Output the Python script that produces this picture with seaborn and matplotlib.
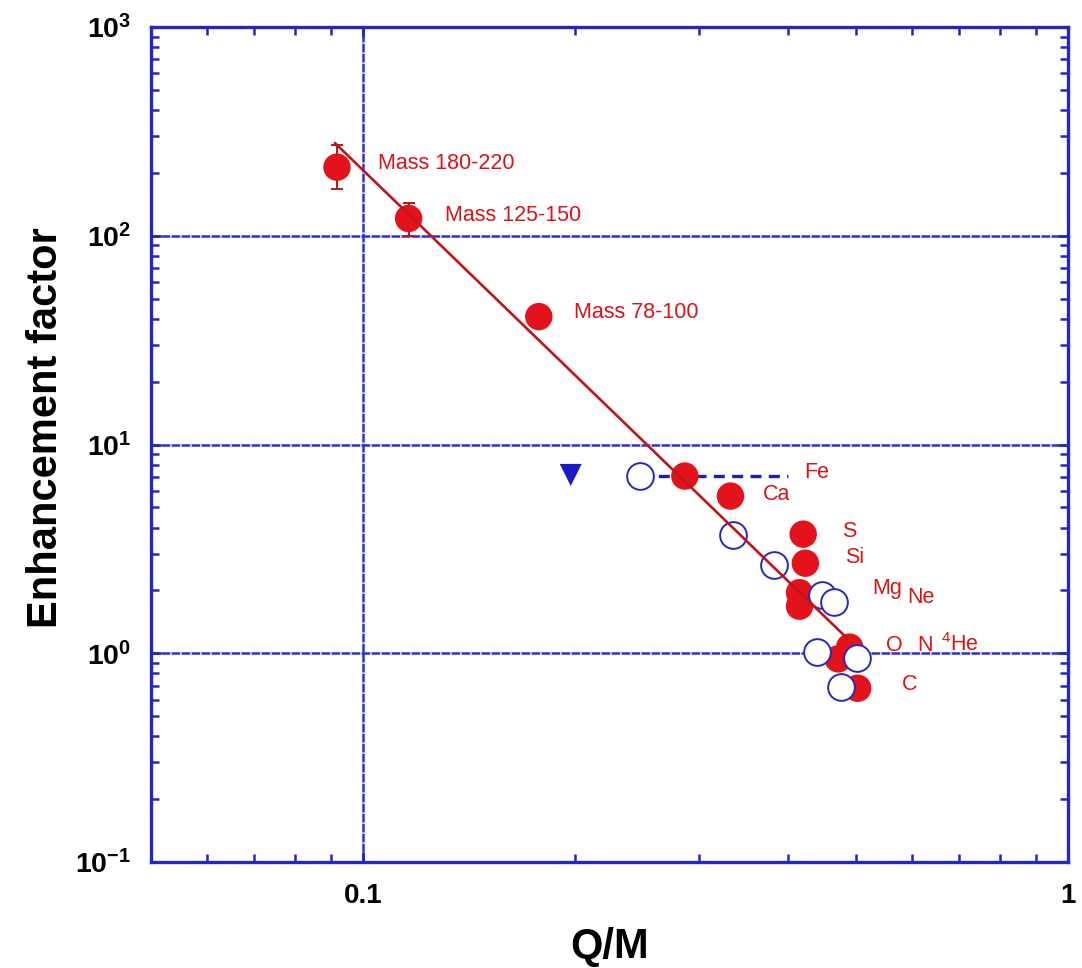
import numpy as np
import pandas as pd
import matplotlib
matplotlib.use("Agg")
import matplotlib.pyplot as plt
from matplotlib.ticker import LogLocator, NullFormatter, FixedLocator
import seaborn as sns

# ---- data -------------------------------------------------------------
# heavy-ion mass groups (filled red)
mass_qm = [0.0918, 0.116, 0.1775]
mass_ef = [213.0, 121.0, 41.0]
mass_names = ["Mass 180-220", "Mass 125-150", "Mass 78-100"]

# error bars on the two heaviest groups
err_qm = [0.0918, 0.116]
err_ef = [213.0, 121.0]
err_lo = [167.0, 100.0]
err_hi = [272.0, 143.0]

# element enhancements (filled red)
elem_qm = [0.286, 0.332, 0.421, 0.424, 0.416, 0.416, 0.472, 0.490, 0.503]
elem_ef = [7.06, 5.66, 3.72, 2.70, 1.95, 1.68, 0.94, 1.07, 0.68]

# second data set (open blue circles)
open_qm = [0.247, 0.335, 0.383, 0.448, 0.466, 0.440, 0.502, 0.477]
open_ef = [7.06, 3.68, 2.65, 1.90, 1.76, 1.01, 0.95, 0.69]

# upper limit (blue triangle)
limit_qm = [0.197]
limit_ef = [7.15]

# Fe charge-state range (dashed blue)
fe_range_qm = [0.247, 0.40]
fe_range_ef = [7.06, 7.06]

# power-law fit (red line)
fit_qm = [0.0912, 0.486]
fit_ef = [278.0, 1.18]

# element labels and their anchor positions
elem_labels = ["Fe", "Ca", "S", "Si", "Mg", "Ne", "O", "N", r"$^{4}$He", "C"]
elem_label_qm = [0.4225, 0.3687, 0.4787, 0.482, 0.5283, 0.5914, 0.5526, 0.6113, 0.661, 0.5809]
elem_label_ef = [7.38, 5.73, 3.81, 2.86, 2.05, 1.84, 1.095, 1.095, 1.095, 0.705]
mass_label_qm = [0.1050, 0.1308, 0.199]
mass_label_ef = [222.0, 125.0, 43.0]

x_ticks = [0.1, 1.0]
x_ticklabels = ["0.1", "1"]
y_ticks = [0.1, 1.0, 10.0, 100.0, 1000.0]
y_ticklabels = [r"$\mathbf{10^{-1}}$", r"$\mathbf{10^{0}}$", r"$\mathbf{10^{1}}$",
                r"$\mathbf{10^{2}}$", r"$\mathbf{10^{3}}$"]

# ---- style ------------------------------------------------------------
sns.set_style("ticks")
plt.rcParams["font.family"] = ["Liberation Sans", "DejaVu Sans"]
plt.rcParams["mathtext.fontset"] = "custom"
plt.rcParams["mathtext.rm"] = "Liberation Sans"
plt.rcParams["mathtext.it"] = "Liberation Sans:italic"
plt.rcParams["mathtext.bf"] = "Liberation Sans:bold"
plt.rcParams["text.color"] = "black"
plt.rcParams["axes.labelcolor"] = "black"
plt.rcParams["xtick.labelcolor"] = "black"
plt.rcParams["ytick.labelcolor"] = "black"

RED = "#e4121a"
TXTRED = "#d81418"
DARKRED = "#c01414"
BLUE = "#2626c4"
GRID = "#3030cc"

fig = plt.figure(figsize=(10.82, 9.68), dpi=100)
ax = fig.add_axes([151 / 1082, 1 - 862 / 968, (1068 - 151) / 1082, (862 - 27) / 968])
ax.set_xscale("log")
ax.set_yscale("log")

df_mass = pd.DataFrame({"qm": mass_qm, "ef": mass_ef})
df_elem = pd.DataFrame({"qm": elem_qm, "ef": elem_ef})
df_open = pd.DataFrame({"qm": open_qm, "ef": open_ef})
df_lim = pd.DataFrame({"qm": limit_qm, "ef": limit_ef})
df_fe = pd.DataFrame({"qm": fe_range_qm, "ef": fe_range_ef})
df_fit = pd.DataFrame({"qm": fit_qm, "ef": fit_ef})

# error bars
ax.errorbar(err_qm, err_ef,
            yerr=[np.array(err_ef) - np.array(err_lo), np.array(err_hi) - np.array(err_ef)],
            fmt="none", ecolor=DARKRED, elinewidth=1.4, capsize=4.5, capthick=1.4, zorder=2)

# dashed Fe range
sns.lineplot(data=df_fe, x="qm", y="ef", ax=ax, color="#1c1cc0", lw=2.4,
             linestyle=(0, (3.3, 2.2)), sort=False, zorder=2)

# filled red points
sns.scatterplot(data=df_mass, x="qm", y="ef", ax=ax, s=390, color=RED,
                edgecolor="none", linewidth=0, zorder=3)
sns.scatterplot(data=df_elem, x="qm", y="ef", ax=ax, s=390, color=RED,
                edgecolor="none", linewidth=0, zorder=3)

# open blue circles
sns.scatterplot(data=df_open, x="qm", y="ef", ax=ax, s=370, color="white",
                edgecolor=BLUE, linewidth=1.4, zorder=4)

# blue triangle
sns.scatterplot(data=df_lim, x="qm", y="ef", ax=ax, s=250, marker="v",
                color="#1a1ac8", edgecolor="none", linewidth=0, zorder=4)

# fit line
sns.lineplot(data=df_fit, x="qm", y="ef", ax=ax, color="#c0141a", lw=1.9,
             sort=False, zorder=5)

# labels
for name, xq, ye in zip(mass_names, mass_label_qm, mass_label_ef):
    ax.text(xq, ye, name, color=TXTRED, fontsize=15.5, ha="left", va="center", zorder=6)
for name, xq, ye in zip(elem_labels, elem_label_qm, elem_label_ef):
    ax.text(xq, ye, name, color=TXTRED, fontsize=15.5, ha="left", va="center", zorder=6)

# ---- axes -------------------------------------------------------------
ax.set_xlim(0.05, 1.0)
ax.set_ylim(0.1, 1000.0)

ax.xaxis.set_major_locator(FixedLocator(x_ticks))
ax.set_xticklabels(x_ticklabels)
ax.xaxis.set_minor_locator(LogLocator(base=10, subs=np.arange(2, 10)))
ax.xaxis.set_minor_formatter(NullFormatter())
ax.yaxis.set_major_locator(FixedLocator(y_ticks))
ax.set_yticklabels(y_ticklabels)
ax.yaxis.set_minor_locator(LogLocator(base=10, subs=np.arange(2, 10)))
ax.yaxis.set_minor_formatter(NullFormatter())

ax.grid(True, which="major", color=GRID, lw=1.8, linestyle=(0, (3.5, 0.5)))
ax.set_axisbelow(True)

for sp in ax.spines.values():
    sp.set_color(BLUE)
    sp.set_linewidth(2.4)
    sp.set_visible(True)

ax.tick_params(which="both", direction="in", top=True, right=True, color=BLUE)
ax.tick_params(which="major", length=7, width=2.0)
ax.tick_params(which="minor", length=5.5, width=1.8)
ax.tick_params(axis="x", which="major", pad=15, labelsize=20, labelcolor="black")
ax.tick_params(axis="y", which="major", pad=14, labelsize=20.5, labelcolor="black")
for lab in ax.get_xticklabels():
    lab.set_fontweight("bold")

ax.set_xlabel("Q/M", fontsize=30, fontweight="bold", color="black")
ax.set_ylabel("Enhancement factor", fontsize=30, fontweight="bold", color="black")
ax.xaxis.set_label_coords(0.5, -0.078)
ax.yaxis.set_label_coords(-0.093, 0.52)

fig.savefig("out.png", dpi=100, facecolor="white")
